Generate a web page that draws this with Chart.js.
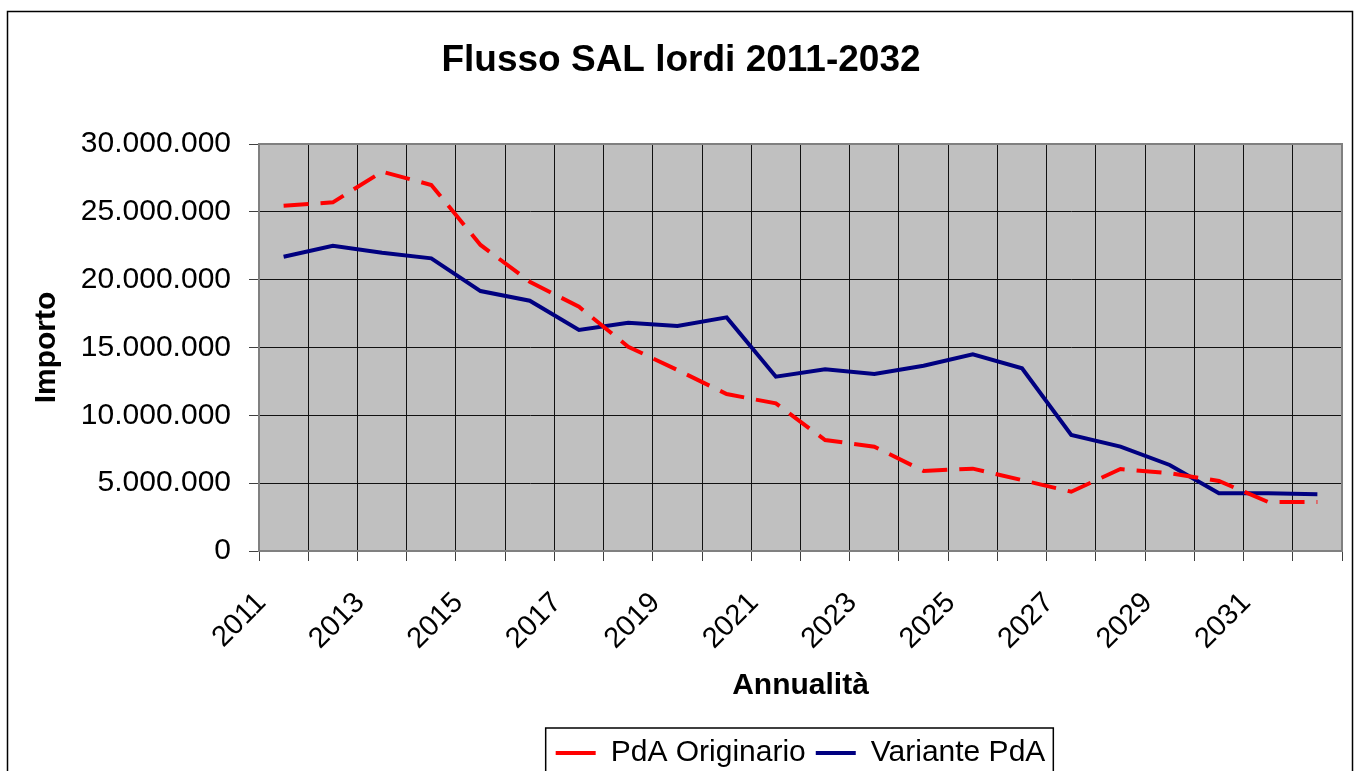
<!DOCTYPE html>
<html>
<head>
<meta charset="utf-8">
<script src="https://cdn.jsdelivr.net/npm/chart.js"></script>
<style>
  body { margin: 0; background: #fff; }
</style>
</head>
<body>
<canvas id="myChart" width="1357" height="771"></canvas>
<script>

    const anni = ['2011', '2012', '2013', '2014', '2015', '2016', '2017', '2018', '2019', '2020', '2021',
                  '2022', '2023', '2024', '2025', '2026', '2027', '2028', '2029', '2030', '2031', '2032'];

    const pdaOriginario = [25450000, 25700000, 27960000, 26980000, 22560000, 19850000, 18000000, 15060000,
                           13340000, 11570000, 10880000, 8180000, 7690000, 5900000, 6070000, 5230000,
                           4370000, 6040000, 5730000, 5160000, 3610000, 3610000];

    const variantePdA = [21690000, 22500000, 21990000, 21570000, 19160000, 18450000, 16290000, 16830000,
                         16580000, 17220000, 12850000, 13390000, 13050000, 13660000, 14500000, 13470000,
                         8550000, 7690000, 6340000, 4250000, 4250000, 4180000];

    const yTicks = [0, 5000000, 10000000, 15000000, 20000000, 25000000, 30000000];

    function formatta(v) {
        return String(v).replace(/\B(?=(\d{3})+(?!\d))/g, '.');
    }

    const font = 'Liberation Sans, Arial, sans-serif';

    const data = {
        labels: anni,
        datasets: [{
            label: 'PdA Originario',
            data: pdaOriginario,
            borderColor: '#ff0000',
            backgroundColor: '#ff0000',
            borderWidth: 4,
            borderDash: [25, 12],
            pointRadius: 0,
            tension: 0
        }, {
            label: 'Variante PdA',
            data: variantePdA,
            borderColor: '#000080',
            backgroundColor: '#000080',
            borderWidth: 4,
            pointRadius: 0,
            tension: 0
        }]
    };

    // sfondo bianco, cornice esterna, area grigia e riquadro legenda
    const sfondo = {
        id: 'sfondo',
        afterLayout(chart) {
            const lg = chart.legend;
            const ca = chart.chartArea;
            const shift = (ca.left + ca.right) / 2 - (lg.left + lg.right) / 2;
            lg.left += shift;
            lg.right += shift;
            lg.legendHitBoxes.forEach(b => { b.left += shift; });
        },
        beforeDraw(chart) {
            const {ctx, chartArea: {left, top, width, height}} = chart;
            ctx.save();
            ctx.fillStyle = '#ffffff';
            ctx.fillRect(0, 0, chart.width, chart.height);
            ctx.strokeStyle = '#000';
            ctx.lineWidth = 1.5;
            ctx.strokeRect(7.5, 11.5, 1345, 800);
            ctx.fillStyle = '#c0c0c0';
            ctx.fillRect(left, top, width, height);
            ctx.restore();
        },
        afterDraw(chart) {
            const {ctx, chartArea: {left, top, right, bottom}} = chart;
            ctx.save();
            ctx.strokeStyle = '#808080';
            ctx.lineWidth = 2;
            ctx.beginPath();
            ctx.moveTo(left, top);
            ctx.lineTo(right, top);
            ctx.lineTo(right, bottom);
            ctx.stroke();

            const boxes = chart.legend.legendHitBoxes;
            const first = boxes[0];
            const last = boxes[boxes.length - 1];
            const bl = first.left - 10;
            const br = last.left + last.width + 8;
            const bt = first.top - 10;
            ctx.strokeStyle = '#000';
            ctx.lineWidth = 1.5;
            ctx.strokeRect(bl, bt, br - bl, 100);
            ctx.restore();
        }
    };

    const config = {
        type: 'line',
        data,
        options: {
            responsive: false,
            animation: false,
            layout: {
                padding: { left: 20, right: 15, top: 0, bottom: -7 }
            },
            plugins: {
                title: {
                    display: true,
                    text: 'Flusso SAL lordi 2011-2032',
                    color: '#000',
                    font: { family: font, size: 37, weight: 'bold' },
                    padding: { top: 39, bottom: 60.6 }
                },
                legend: {
                    position: 'bottom',
                    labels: {
                        usePointStyle: true,
                        pointStyle: 'line',
                        pointStyleWidth: 40,
                        color: '#000',
                        padding: 10,
                        font: { family: font, size: 30 }
                    }
                },
                tooltip: { enabled: false }
            },
            scales: {
                x: {
                    offset: true,
                    afterFit(scale) {
                        scale.height = 177;
                        scale.paddingLeft = 0;
                        scale.paddingRight = 0;
                    },
                    grid: {
                        offset: true,
                        color: '#111',
                        lineWidth: 1,
                        tickLength: 10,
                        tickColor: '#404040'
                    },
                    border: { color: '#808080', width: 2 },
                    ticks: {
                        autoSkip: false,
                        minRotation: 45,
                        maxRotation: 45,
                        padding: 25,
                        labelOffset: -22,
                        color: '#000',
                        font: { family: font, size: 29 },
                        callback(value, index) {
                            return index % 2 === 0 ? anni[index] : '';
                        }
                    },
                    title: {
                        display: true,
                        text: 'Annualità',
                        color: '#000',
                        font: { family: font, size: 30, weight: 'bold' },
                        padding: { top: 0, bottom: 24 }
                    }
                },
                y: {
                    min: 0,
                    max: 30000000,
                    afterFit(scale) { scale.width = 239; },
                    afterBuildTicks(scale) {
                        scale.ticks = yTicks.map(v => ({ value: v }));
                    },
                    grid: {
                        color: '#111',
                        lineWidth: 1,
                        tickLength: 10,
                        tickColor: '#404040'
                    },
                    border: { color: '#808080', width: 2 },
                    ticks: {
                        padding: 18,
                        color: '#000',
                        font: { family: font, size: 30 },
                        callback(value) { return formatta(value); }
                    },
                    title: {
                        display: true,
                        text: 'Importo',
                        color: '#000',
                        font: { family: font, size: 30, weight: 'bold' },
                        padding: { top: 9, bottom: 0 }
                    }
                }
            }
        },
        plugins: [sfondo]
    };

    const myChart = new Chart(document.getElementById('myChart'), config);
</script>
</body>
</html>
